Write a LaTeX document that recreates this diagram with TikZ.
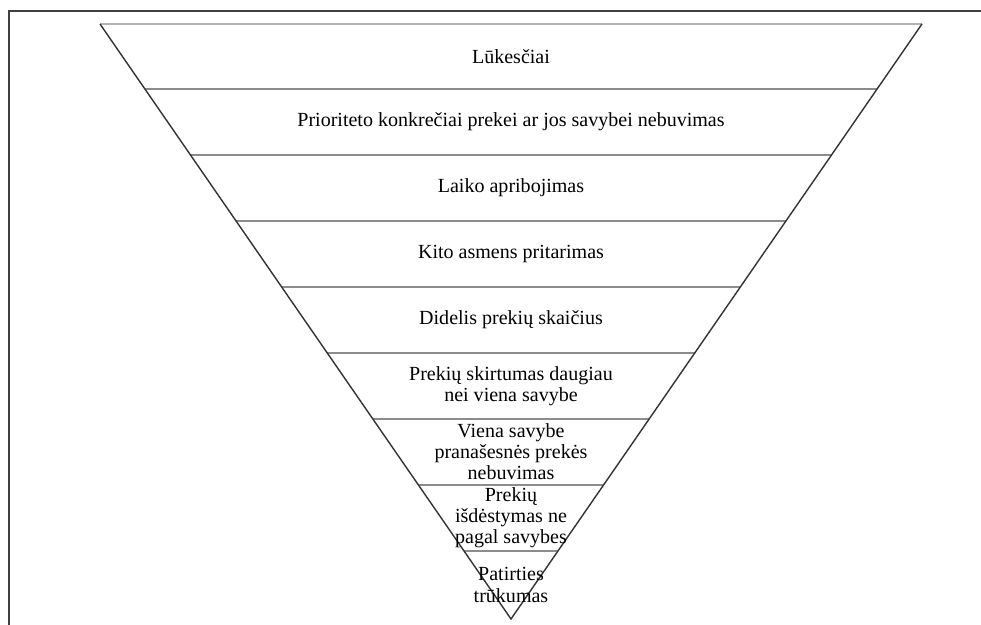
\documentclass[tikz,border=0pt]{standalone}
\usepackage{fontspec}
\setmainfont{Liberation Serif}
\usetikzlibrary{positioning}

\tikzset{
    layer/.style={draw=none, align=center, font=\fontsize{11.4}{12}\selectfont},
    band/.style={draw=black!45, line width=0.7pt},
    side/.style={draw=black!80, line width=0.8pt, line join=miter}
}

\begin{document}
\begin{tikzpicture}
    \useasboundingbox (0,0) rectangle (19.62,12.5);

    % Frame (only left and top edge visible)
    \draw[black!75, line width=1.1pt] (0.18,0) -- (0.18,12.28) -- (19.62,12.28);

    % Inverted triangle
    \coordinate (tl) at (2.00,12.02);
    \coordinate (tr) at (18.44,12.02);
    \coordinate (apex) at (10.22,0.12);

    % Band separators
    \foreach \y in {10.72, 9.40, 8.08, 6.76, 5.44, 4.12, 2.80, 1.48}
        \draw[band] ({10.22-0.6908*(\y-0.12)},\y) -- ({10.22+0.6908*(\y-0.12)},\y);
    \draw[band, draw=black!30] (tl) -- (tr);

    \draw[side] (tl) -- (apex) -- (tr);

    % Layer labels
    \node[layer] (expect)   at (10.22,11.37) {Lūkesčiai};
    \node[layer] (priority) at (10.22,10.06) {Prioriteto konkrečiai prekei ar jos savybei nebuvimas};
    \node[layer] (time)     at (10.22,8.74)  {Laiko apribojimas};
    \node[layer] (approval) at (10.22,7.42)  {Kito asmens pritarimas};
    \node[layer] (many)     at (10.22,6.10)  {Didelis prekių skaičius};
    \node[layer] (diff)     at (10.22,4.78)  {Prekių skirtumas daugiau\\nei viena savybe};
    \node[layer] (better)   at (10.22,3.46)  {Viena savybe\\pranašesnės prekės\\nebuvimas};
    \node[layer] (layout)   at (10.22,2.14)  {Prekių\\išdėstymas ne\\pagal savybes};
    \node[layer] (exper)    at (10.22,0.80)  {Patirties\\trūkumas};
\end{tikzpicture}
\end{document}
